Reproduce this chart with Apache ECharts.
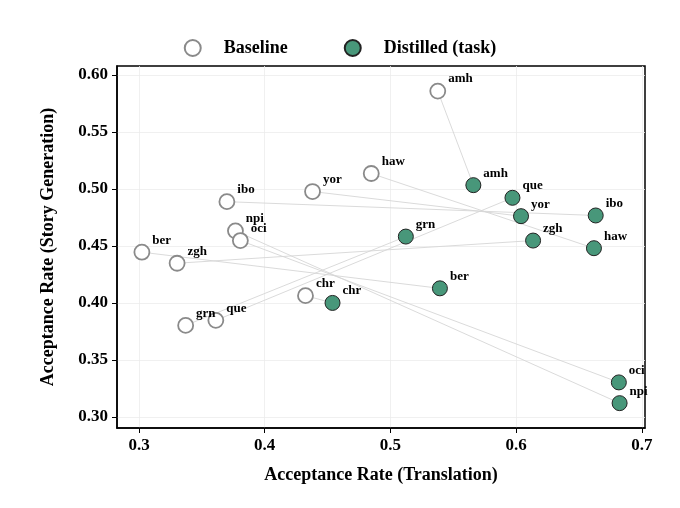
<!DOCTYPE html>
<html><head><meta charset="utf-8">
<script src="https://cdn.jsdelivr.net/npm/echarts@6/dist/echarts.min.js"></script>
<style>html,body{margin:0;padding:0;background:#fff}#c{width:680px;height:508px}</style>
</head><body><div id="c"></div>
<script>
const langs = ['amh','haw','yor','ibo','npi','oci','ber','zgh','chr','grn','que'];
const baseX = [0.5376,0.4847,0.4380,0.3699,0.3767,0.3806,0.3023,0.3303,0.4324,0.3371,0.3611];
const baseY = [0.5859,0.5136,0.4978,0.4889,0.4633,0.4548,0.4446,0.4349,0.4065,0.3804,0.3848];
const distX = [0.5659,0.6618,0.6038,0.6632,0.6822,0.6816,0.5393,0.6134,0.4539,0.5122,0.5970];
const distY = [0.5034,0.4481,0.4762,0.4768,0.3122,0.3304,0.4129,0.4548,0.4001,0.4583,0.4923];
const xTicks = [0.3,0.4,0.5,0.6,0.7];
const yTicks = [0.30,0.35,0.40,0.45,0.50,0.55,0.60];

const F = 'Liberation Serif';
const lbl = {show:true, position:'right', offset:[-3,-12], formatter:p=>p.data[2],
  fontFamily:F, fontWeight:'bold', fontSize:13, color:'#000', opacity:1};
const series = langs.map((l,i)=>({type:'line', data:[[baseX[i],baseY[i]],[distX[i],distY[i]]],
  symbol:'none', silent:true, lineStyle:{color:'#d6d6d6', width:0.9}, z:1}));
series.push({name:'Baseline', type:'scatter', symbolSize:15, z:3,
  itemStyle:{color:'#fff', borderColor:'#8a8a8a', borderWidth:1.8, opacity:1},
  data: langs.map((l,i)=>[baseX[i],baseY[i],l]), label:lbl});
series.push({name:'Distilled (task)', type:'scatter', symbolSize:15, z:3,
  itemStyle:{color:'#48977a', borderColor:'#222', borderWidth:1, opacity:1},
  data: langs.map((l,i)=>[distX[i],distY[i],l]), label:lbl});

const axisCommon = {
  axisLine:{show:true, onZero:false, lineStyle:{color:'#000', width:1.5}},
  axisTick:{show:true, inside:false, length:5, lineStyle:{color:'#000'}},
  splitLine:{show:true, lineStyle:{color:'#ececec', width:0.8}},
  nameLocation:'middle',
  nameTextStyle:{fontFamily:F, fontWeight:'bold', fontSize:18, color:'#000'}
};
const chart = echarts.init(document.getElementById('c'));
chart.setOption({
  animation:false,
  legend:{top:34, left:'center', itemGap:56, itemWidth:16, itemHeight:16,
    data:['Baseline','Distilled (task)'],
    textStyle:{fontFamily:F, fontWeight:'bold', fontSize:18, color:'#000', padding:[0,0,0,18]}},
  grid:{left:117, right:35, top:66, bottom:80, show:true, borderColor:'#000', borderWidth:1.5},
  xAxis:Object.assign({}, axisCommon, {type:'value', min:0.2825, max:0.7024,
    name:'Acceptance Rate (Translation)', nameGap:38,
    axisTick:Object.assign({}, axisCommon.axisTick, {customValues:xTicks}),
    axisLabel:{customValues:xTicks, formatter:v=>v.toFixed(1), fontFamily:F, fontWeight:'bold', fontSize:17, color:'#000', margin:9}}),
  yAxis:Object.assign({}, axisCommon, {type:'value', min:0.2904, max:0.6079,
    name:'Acceptance Rate (Story Generation)', nameGap:60,
    axisTick:Object.assign({}, axisCommon.axisTick, {customValues:yTicks}),
    axisLabel:{customValues:yTicks, formatter:v=>v.toFixed(2), fontFamily:F, fontWeight:'bold', fontSize:17, color:'#000', margin:9}}),
  series
});
</script></body></html>
